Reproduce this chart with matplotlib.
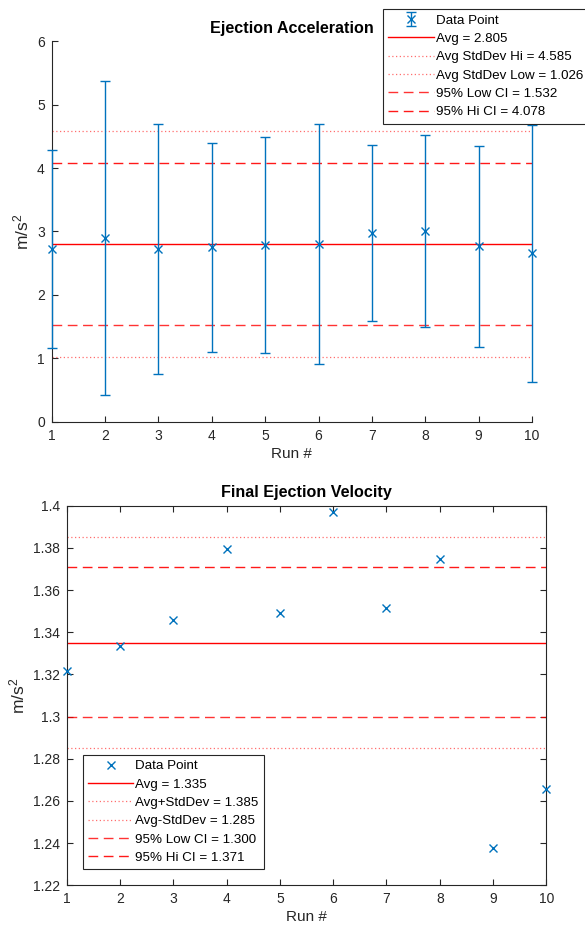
import matplotlib
matplotlib.use("Agg")
import matplotlib.pyplot as plt
from matplotlib.ticker import FuncFormatter
import numpy as np

plt.rcParams['font.family'] = ['Liberation Sans', 'DejaVu Sans']
plt.rcParams['mathtext.fontset'] = 'custom'
plt.rcParams['mathtext.rm'] = 'Liberation Sans'
plt.rcParams['mathtext.it'] = 'Liberation Sans:italic'

# Ejection acceleration per run (m/s^2) with standard deviation
runs = [1, 2, 3, 4, 5, 6, 7, 8, 9, 10]
accel = [2.724, 2.897, 2.724, 2.750, 2.787, 2.797, 2.976, 3.008, 2.766, 2.655]
accel_std = [1.560, 2.470, 1.968, 1.645, 1.706, 1.892, 1.385, 1.510, 1.583, 2.032]
accel_avg = 2.805
accel_std_hi = 4.585
accel_std_lo = 1.026
accel_ci_lo = 1.532
accel_ci_hi = 4.078

# Final ejection velocity per run
velocity = [1.3216, 1.3333, 1.3456, 1.3793, 1.3493, 1.3970, 1.3513, 1.3749, 1.2377, 1.2655]
vel_avg = 1.335
vel_std_hi = 1.385
vel_std_lo = 1.285
vel_ci_lo = 1.300
vel_ci_hi = 1.371

BLUE = '#0072BD'
RED = '#FF0000'
PINK = '#FF6E6E'
AX = '#262626'

fig = plt.figure(figsize=(5.85, 9.31), dpi=100)
ax1 = fig.add_axes([0.0884, 0.547, 0.821, 0.4087])
ax2 = fig.add_axes([0.114, 0.0491, 0.820, 0.4077])


def ref_lines(ax, avg, shi, slo, clo, chi, labels):
    ax.axhline(avg, color=RED, lw=1.0, label=labels[0])
    ax.axhline(shi, color=PINK, lw=0.9, ls=(0, (1, 2)), label=labels[1])
    ax.axhline(slo, color=PINK, lw=0.9, ls=(0, (1, 2)), label=labels[2])
    ax.axhline(clo, color=RED, lw=1.0, ls=(0, (7, 4)), alpha=0.8, label=labels[3])
    ax.axhline(chi, color=RED, lw=1.0, ls=(0, (7, 4)), alpha=0.9, label=labels[4])


def style(ax, box):
    for s in ax.spines.values():
        s.set_color(AX)
        s.set_linewidth(0.8)
    if not box:
        ax.spines['top'].set_visible(False)
        ax.spines['right'].set_visible(False)
    ax.tick_params(direction='in', colors=AX, labelsize=10, length=4, width=0.8,
                   top=box, right=box, pad=5)
    ax.set_xlim(1, 10)
    ax.set_xticks(runs)


def add_legend(ax, anchor):
    h, l = ax.get_legend_handles_labels()
    # data series first, then the reference lines
    idx = [l.index('Data Point')] + [i for i, s in enumerate(l) if s != 'Data Point']
    leg = ax.legend([h[i] for i in idx], [l[i] for i in idx], loc='upper left',
                    bbox_to_anchor=anchor, bbox_transform=fig.transFigure,
                    fontsize=9.6, frameon=True, fancybox=False, framealpha=1,
                    edgecolor=AX, handlelength=3.4, handletextpad=0.15,
                    labelspacing=0.45, borderpad=0.4, borderaxespad=0)
    leg.get_frame().set_linewidth(0.8)
    return leg


# Top panel
eb = ax1.errorbar(runs, accel, yerr=accel_std, fmt='x', color=BLUE, ecolor=BLUE,
                  elinewidth=1.0, capsize=3.5, capthick=1.0, markersize=6,
                  label='Data Point', zorder=3)
for art in [eb[0], *eb[1], *eb[2]]:
    art.set_clip_on(False)
ref_lines(ax1, accel_avg, accel_std_hi, accel_std_lo, accel_ci_lo, accel_ci_hi,
          [f'Avg = {accel_avg:.3f}', f'Avg StdDev Hi = {accel_std_hi:.3f}',
           f'Avg StdDev Low = {accel_std_lo:.3f}', f'95% Low CI = {accel_ci_lo:.3f}',
           f'95% Hi CI = {accel_ci_hi:.3f}'])
style(ax1, box=False)
ax1.set_ylim(0, 6)
ax1.set_yticks(range(0, 7))
ax1.set_title('Ejection Acceleration', fontsize=11.6, fontweight='bold', pad=6)
ax1.set_xlabel('Run #', fontsize=11, color=AX, labelpad=3)
ax1.set_ylabel(r'm/s$^{\mathregular{2}}$', fontsize=12.5, color=AX, labelpad=4)
add_legend(ax1, (383 / 585, 1 - 9 / 931))

# Bottom panel
ax2.plot(runs, velocity, 'x', color=BLUE, markersize=6, label='Data Point',
         zorder=3, clip_on=False)
ref_lines(ax2, vel_avg, vel_std_hi, vel_std_lo, vel_ci_lo, vel_ci_hi,
          [f'Avg = {vel_avg:.3f}', f'Avg+StdDev = {vel_std_hi:.3f}',
           f'Avg-StdDev = {vel_std_lo:.3f}', f'95% Low CI = {vel_ci_lo:.3f}',
           f'95% Hi CI = {vel_ci_hi:.3f}'])
style(ax2, box=True)
ax2.set_ylim(1.22, 1.4)
ax2.set_yticks(np.round(np.arange(1.22, 1.401, 0.02), 2))
ax2.yaxis.set_major_formatter(FuncFormatter(lambda v, p: f'{v:g}'))
ax2.set_title('Final Ejection Velocity', fontsize=11.6, fontweight='bold', pad=6)
ax2.set_xlabel('Run #', fontsize=11, color=AX, labelpad=3)
ax2.set_ylabel(r'm/s$^{\mathregular{2}}$', fontsize=12.5, color=AX, labelpad=4)
add_legend(ax2, (82.7 / 585, 1 - 754.7 / 931))

fig.savefig('out.png', dpi=100, facecolor='white')
